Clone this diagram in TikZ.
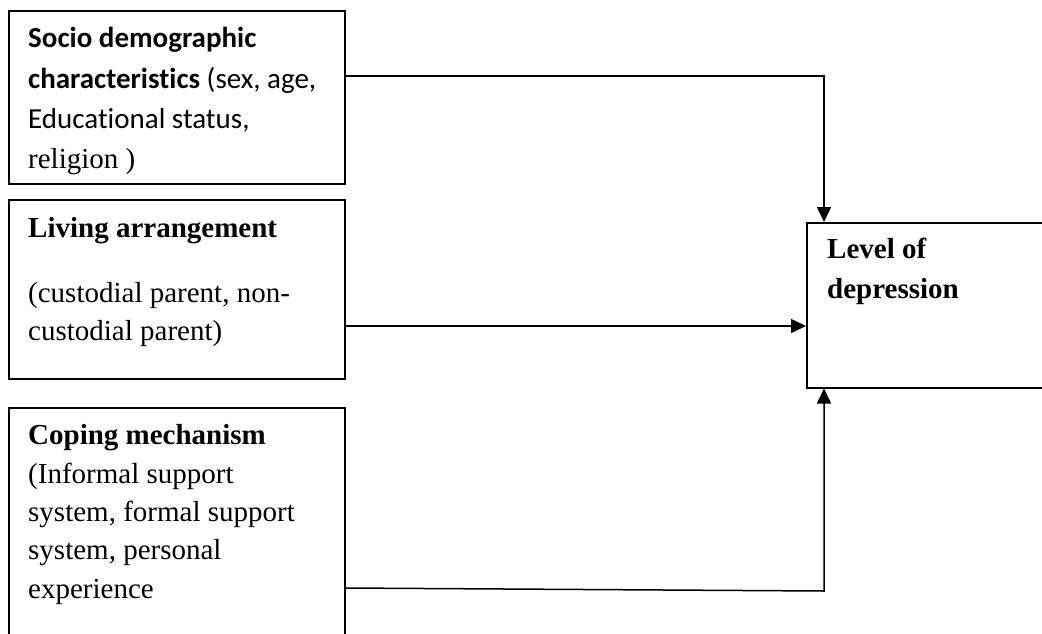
\documentclass[tikz,border=0pt]{standalone}
\usepackage{fontspec}
\setmainfont{Liberation Serif}
\newfontfamily\carlito[Ligatures=NoCommon]{Carlito}
\usetikzlibrary{arrows.meta}
\begin{document}
\begin{tikzpicture}[x=1pt,y=-1pt,
  box/.style={draw,line width=1.5pt,rectangle,inner sep=0pt,anchor=north west},
  txt/.style={anchor=base west,inner sep=0pt,font=\fontsize{29}{40}\selectfont},
  conn/.style={line width=1.5pt,-{Triangle[length=15pt,width=14pt]}},
  plain/.style={line width=1.5pt}]
\useasboundingbox (0,0) rectangle (1042,633);
\clip (0,0) rectangle (1042,633);
% boxes
\node[box,minimum width=336pt,minimum height=173pt] (b1) at (8,10) {};
\node[box,minimum width=336pt,minimum height=179pt] (b2) at (8,199) {};
\node[box,minimum width=336pt,minimum height=260pt] (b3) at (8,407) {};
\node[box,minimum width=270pt,minimum height=165pt] (b4) at (806,222) {};
% box 1 text
\node[txt] (t11) at (28,47) {\carlito\bfseries Socio demographic};
\node[txt] (t12) at (28,88) {\carlito\textbf{characteristics} (sex, age,};
\node[txt] (t13) at (28,128) {\carlito Educational status,};
\node[txt] (t14) at (28,168) {religion )};
% box 2 text
\node[txt] (t21) at (28,237) {\bfseries Living arrangement};
\node[txt] (t22) at (28,302) {(custodial parent, non-};
\node[txt] (t23) at (28,340) {custodial parent)};
% box 3 text
\node[txt] (t31) at (28,444) {\bfseries Coping mechanism};
\node[txt] (t32) at (28,483) {(Informal support};
\node[txt] (t33) at (28,521) {system, formal support};
\node[txt] (t34) at (28,559) {system, personal};
\node[txt] (t35) at (28,598) {experience};
% box 4 text
\node[txt] (t41) at (827,258) {\bfseries Level of};
\node[txt] (t42) at (827,298) {\bfseries depression};
% connectors
\coordinate (c1) at (824,76);
\draw[conn] (c1 -| b1.east) -- (c1) -- (c1 |- b4.north);
\coordinate (c2) at (0,326);
\draw[conn] (c2 -| b2.east) -- (c2 -| b4.west);
\coordinate (c3a) at (0,588);
\coordinate (c3) at (824,591);
\draw[conn] (c3a -| b3.east) -- (c3) -- (c3 |- b4.south);
\end{tikzpicture}
\end{document}
